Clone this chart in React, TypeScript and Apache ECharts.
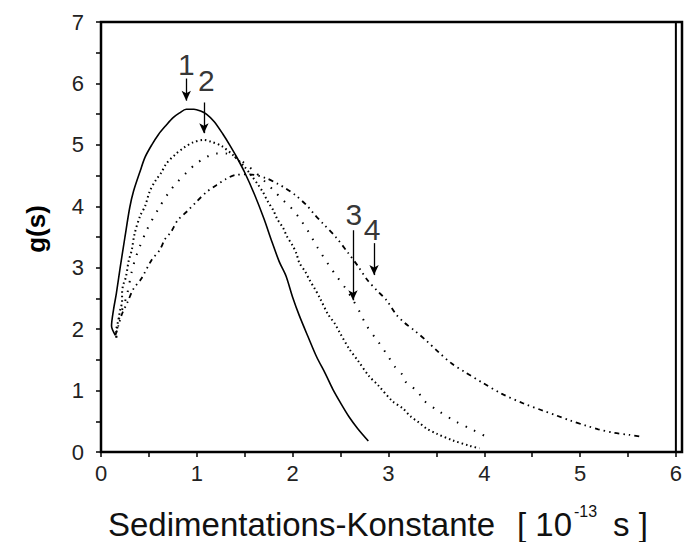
import React, { useEffect, useRef } from "react";
import * as echarts from "echarts";

// Curve 1 (solid)
const curve1: [number, number][] = [
  [0.15, 1.9], [0.11, 2.05], [0.13, 2.31], [0.16, 2.58], [0.2, 3.0], [0.25, 3.5], [0.3, 3.98],
  [0.34, 4.25], [0.41, 4.58], [0.46, 4.8], [0.53, 5.0], [0.6, 5.17], [0.68, 5.32], [0.75, 5.44],
  [0.82, 5.52], [0.89, 5.58], [0.97, 5.58], [1.04, 5.55], [1.1, 5.5], [1.18, 5.38], [1.27, 5.18],
  [1.35, 4.98], [1.42, 4.79], [1.5, 4.55], [1.6, 4.2], [1.7, 3.8], [1.78, 3.44], [1.86, 3.1],
  [1.93, 2.87], [2.0, 2.52], [2.07, 2.22], [2.16, 1.88], [2.25, 1.55], [2.34, 1.28], [2.42, 1.02],
  [2.5, 0.8], [2.59, 0.57], [2.68, 0.38], [2.79, 0.18],
];

// Curve 2 (dense dotted)
const curve2: [number, number][] = [
  [0.16, 1.87], [0.16, 1.98], [0.18, 2.14], [0.2, 2.31], [0.22, 2.45], [0.22, 2.58], [0.23, 2.71],
  [0.26, 2.85], [0.29, 3.12], [0.32, 3.28], [0.35, 3.55], [0.41, 3.85], [0.46, 4.0], [0.51, 4.25],
  [0.57, 4.42], [0.63, 4.55], [0.68, 4.69], [0.78, 4.85], [0.87, 4.96], [0.96, 5.04], [1.07, 5.08],
  [1.15, 5.05], [1.26, 4.98], [1.38, 4.83], [1.5, 4.64], [1.57, 4.5], [1.64, 4.35], [1.69, 4.23],
  [1.74, 4.08], [1.8, 3.93], [1.84, 3.79], [1.9, 3.65], [1.94, 3.51], [2.0, 3.36], [2.04, 3.23],
  [2.07, 3.08], [2.13, 2.94], [2.18, 2.79], [2.23, 2.66], [2.28, 2.52], [2.37, 2.24], [2.44, 2.09],
  [2.49, 1.95], [2.59, 1.68], [2.68, 1.49], [2.8, 1.23], [2.89, 1.09], [3.04, 0.83], [3.15, 0.71],
  [3.23, 0.58], [3.31, 0.49], [3.4, 0.38], [3.5, 0.3], [3.67, 0.19], [3.85, 0.1], [3.95, 0.06],
];

// Curve 3 (sparse dotted)
const curve3: [number, number][] = [
  [0.16, 1.86], [0.18, 2.12], [0.23, 2.36], [0.27, 2.55], [0.32, 2.93], [0.37, 3.2], [0.48, 3.62],
  [0.6, 3.96], [0.71, 4.23], [0.8, 4.4], [0.9, 4.56], [0.99, 4.69], [1.1, 4.8], [1.2, 4.86],
  [1.3, 4.86], [1.4, 4.8], [1.5, 4.7], [1.6, 4.57], [1.7, 4.42], [1.8, 4.26], [1.9, 4.1],
  [1.97, 4.0], [2.06, 3.83], [2.16, 3.6], [2.26, 3.33], [2.37, 3.06], [2.46, 2.86], [2.55, 2.67],
  [2.62, 2.5], [2.7, 2.28], [2.77, 2.06], [2.9, 1.78], [3.0, 1.55], [3.06, 1.4], [3.15, 1.25],
  [3.18, 1.14], [3.31, 0.98], [3.36, 0.85], [3.53, 0.66], [3.71, 0.49], [3.88, 0.36], [4.06, 0.22],
];

// Curve 4 (dash-dot)
const curve4: [number, number][] = [
  [0.15, 1.9], [0.18, 2.05], [0.22, 2.25], [0.28, 2.45], [0.34, 2.66], [0.42, 2.82], [0.53, 3.13],
  [0.61, 3.28], [0.67, 3.47], [0.73, 3.58], [0.8, 3.77], [0.9, 3.92], [1.0, 4.08], [1.1, 4.23],
  [1.2, 4.34], [1.3, 4.44], [1.4, 4.51], [1.55, 4.52], [1.72, 4.46], [1.85, 4.36], [1.92, 4.3],
  [2.03, 4.18], [2.15, 4.01], [2.22, 3.88], [2.31, 3.73], [2.45, 3.5], [2.57, 3.26], [2.68, 3.03],
  [2.78, 2.8], [2.88, 2.63], [2.98, 2.47], [3.08, 2.24], [3.17, 2.1], [3.27, 1.98], [3.39, 1.82],
  [3.52, 1.63], [3.66, 1.44], [3.8, 1.3], [3.99, 1.12], [4.18, 0.95], [4.41, 0.79], [4.6, 0.68],
  [4.76, 0.59], [4.9, 0.51], [5.06, 0.43], [5.19, 0.37], [5.36, 0.31], [5.51, 0.28], [5.63, 0.25],
];

// Annotation labels and arrows (data coordinates)
const annLabels = ["1", "2", "3", "4"];
const annLabelPos: [number, number][] = [[0.89, 6.31], [1.1, 6.05], [2.64, 3.87], [2.83, 3.63]];
const annArrowX = [0.89, 1.074, 2.63, 2.85];
const annArrowFrom = [6.08, 5.69, 3.61, 3.4];
const annArrowTo = [5.72, 5.19, 2.47, 2.88];

const xTicks = { min: 0, max: 6, interval: 1 };
const yTicks = { min: 0, max: 7, interval: 1 };

const FONT = '"Liberation Sans", Arial, sans-serif';
const W = 685;
const H = 542;
const GRID = { left: 101, right: 3, top: 22, bottom: 90 };

export default function App() {
  const ref = useRef<HTMLDivElement>(null);
  useEffect(() => {
    if (!ref.current) return;
    const chart = echarts.init(ref.current, null, { renderer: "svg" });
    const tickStyle = { color: "#000", width: 1.5 };
    const black = "#000";
    const arrowItems = annArrowX.map((x, i) => [
      { coord: [x, annArrowFrom[i]], symbol: "none" },
      { coord: [x, annArrowTo[i]], symbol: "arrow", symbolSize: [7, 10] },
    ]);
    chart.setOption({
      animation: false,
      grid: { ...GRID, show: true, borderColor: "#000", borderWidth: 2 },
      xAxis: [
        {
          type: "value", ...xTicks,
          axisLine: { show: true, onZero: false, lineStyle: { color: "#000", width: 2 } },
          axisTick: { show: true, inside: false, length: 5, lineStyle: tickStyle },
          minorTick: { show: true, splitNumber: 2, length: 5, lineStyle: tickStyle },
          splitLine: { show: false },
          axisLabel: { color: "#222", fontSize: 22, fontFamily: FONT, margin: 10 },
        },
      ],
      yAxis: [
        {
          type: "value", ...yTicks,
          axisLine: { show: true, onZero: false, lineStyle: { color: "#000", width: 2 } },
          axisTick: { show: true, inside: false, length: 5, lineStyle: tickStyle },
          minorTick: { show: true, splitNumber: 2, length: 5, lineStyle: tickStyle },
          splitLine: { show: false },
          axisLabel: { color: "#222", fontSize: 22, fontFamily: FONT, margin: 17 },
        },
      ],
      series: [
        {
          type: "line", data: curve1, showSymbol: false, smooth: 0.3, silent: true,
          lineStyle: { color: black, width: 1.6, type: "solid" },
          markLine: {
            silent: true,
            symbol: ["none", "arrow"],
            symbolSize: [7, 10],
            precision: 4,
            label: { show: false },
            emphasis: { disabled: true },
            lineStyle: { color: black, width: 1.3, type: "solid" },
            data: arrowItems,
          },
        },
        {
          type: "line", data: curve2, showSymbol: false, smooth: 0.3, silent: true,
          lineStyle: { color: black, width: 2, type: [1.5, 3] },
        },
        {
          type: "line", data: curve3, showSymbol: false, smooth: 0.3, silent: true,
          lineStyle: { color: black, width: 2, type: [1.5, 8] },
        },
        {
          type: "line", data: curve4, showSymbol: false, smooth: 0.3, silent: true,
          lineStyle: { color: black, width: 1.8, type: [5, 4, 1.5, 4, 1.5, 4] },
        },
        {
          type: "scatter", symbolSize: 0, silent: true,
          data: annLabels.map((n, i) => ({ name: n, value: annLabelPos[i] })),
          label: {
            show: true, position: "inside", formatter: "{b}",
            fontSize: 30, color: "#000", fontFamily: FONT,
          },
        },
      ],
      graphic: [
        {
          type: "rect", z: 100, silent: true,
          shape: {
            x: GRID.left, y: GRID.top,
            width: W - GRID.left - GRID.right, height: H - GRID.top - GRID.bottom,
          },
          style: { fill: "none", stroke: "#000", lineWidth: 2.5 },
        },
        {
          type: "text", x: 36, y: 229, rotation: Math.PI / 2,
          style: { text: "g(s)", font: `bold 26px ${FONT}`, fill: "#000", align: "center", verticalAlign: "middle" },
        },
        {
          type: "text", x: 108, y: 524,
          style: { text: "Sedimentations-Konstante", font: `33px ${FONT}`, fill: "#111", align: "left", verticalAlign: "middle" },
        },
        {
          type: "text", x: 517, y: 524,
          style: { text: "[ 10", font: `33px ${FONT}`, fill: "#111", align: "left", verticalAlign: "middle" },
        },
        {
          type: "text", x: 574, y: 511,
          style: { text: "-13", font: `16px ${FONT}`, fill: "#111", align: "left", verticalAlign: "middle" },
        },
        {
          type: "text", x: 613, y: 524,
          style: { text: "s ]", font: `33px ${FONT}`, fill: "#111", align: "left", verticalAlign: "middle" },
        },
      ],
    });
    return () => chart.dispose();
  }, []);
  return (
    <div
      ref={ref}
      style={{ position: "fixed", left: 0, top: 0, width: W, height: H, background: "#fff" }}
    />
  );
}
